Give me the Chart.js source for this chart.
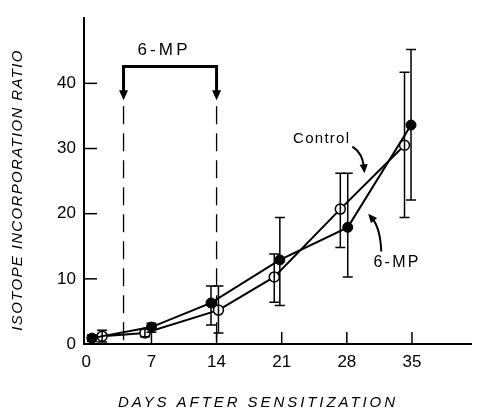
<!DOCTYPE html>
<html>
<head>
<meta charset="utf-8">
<script src="https://cdn.jsdelivr.net/npm/chart.js@4/dist/chart.umd.min.js"></script>
<style>
  html, body { margin: 0; padding: 0; background: #fff; }
  #wrap { width: 478px; height: 411px; }
</style>
</head>
<body>
<div id="wrap"><canvas id="chart"></canvas></div>
<script>
// values
const days6mp = [0.6, 7.0, 13.4, 20.8, 28.1, 34.9];
const ratio6mp = [0.9, 2.6, 6.3, 12.9, 17.9, 33.6];
const low6mp = [0.4, 1.8, 2.9, 5.9, 10.3, 22.1];
const high6mp = [1.4, 3.2, 8.9, 19.4, 26.2, 45.2];

const daysControl = [1.7, 6.3, 14.2, 20.2, 27.3, 34.2];
const ratioControl = [1.2, 1.7, 5.2, 10.3, 20.7, 30.5];
const lowControl = [0.3, 1.1, 1.7, 6.4, 14.8, 19.4];
const highControl = [2.1, 2.3, 8.9, 13.8, 26.2, 41.7];

const xTicks = [0, 7, 14, 21, 28, 35];
const yTicks = [0, 10, 20, 30, 40];

const treatStart = 4;
const treatEnd = 14;

function toPoints(xs, ys) {
    return xs.map((x, i) => ({ x: x, y: ys[i] }));
}

const errorBars = {
    id: 'errorBars',
    afterDatasetsDraw(chart) {
        const ctx = chart.ctx;
        const xs = chart.scales.x, ys = chart.scales.y;
        ctx.save();
        ctx.strokeStyle = '#000';
        ctx.lineWidth = 1.5;
        chart.data.datasets.forEach(ds => {
            ds.data.forEach((p, i) => {
                const px = xs.getPixelForValue(p.x);
                const top = ys.getPixelForValue(ds.high[i]);
                const bot = ys.getPixelForValue(ds.low[i]);
                ctx.beginPath();
                ctx.moveTo(px, top); ctx.lineTo(px, bot);
                ctx.moveTo(px - 5, top); ctx.lineTo(px + 5, top);
                ctx.moveTo(px - 5, bot); ctx.lineTo(px + 5, bot);
                ctx.stroke();
            });
        });
        ctx.restore();
    }
};

function arrowHead(ctx, x, y, angle, size) {
    ctx.save();
    ctx.translate(x, y);
    ctx.rotate(angle);
    ctx.beginPath();
    ctx.moveTo(0, 0);
    ctx.lineTo(-size, -size * 0.45);
    ctx.lineTo(-size, size * 0.45);
    ctx.closePath();
    ctx.fill();
    ctx.restore();
}

function fitText(ctx, text, x, y, width) {
    const w = ctx.measureText(text).width;
    const n = text.length - 1;
    ctx.letterSpacing = ((width - w) / n) + 'px';
    ctx.fillText(text, x, y);
    ctx.letterSpacing = '0px';
}

const extras = {
    id: 'extras',
    beforeDatasetsDraw(chart) {
        const ctx = chart.ctx;
        const xs = chart.scales.x, ys = chart.scales.y;
        const a = chart.chartArea;
        ctx.save();
        ctx.strokeStyle = '#000';
        ctx.fillStyle = '#000';

        // inward tick marks
        ctx.lineWidth = 1.5;
        xTicks.forEach(t => {
            if (t === 0) return;
            const px = xs.getPixelForValue(t);
            ctx.beginPath(); ctx.moveTo(px, a.bottom); ctx.lineTo(px, a.bottom - 12); ctx.stroke();
        });
        yTicks.forEach(t => {
            if (t === 0) return;
            const py = ys.getPixelForValue(t);
            ctx.beginPath(); ctx.moveTo(a.left, py); ctx.lineTo(a.left + 13, py); ctx.stroke();
        });

        // treatment period
        const x1 = xs.getPixelForValue(treatStart), x2 = xs.getPixelForValue(treatEnd);
        const yb = ys.getPixelForValue(42.6), yTip = ys.getPixelForValue(37.4), yDash = ys.getPixelForValue(36.5);
        ctx.lineWidth = 3;
        ctx.beginPath(); ctx.moveTo(x1, yTip - 6); ctx.lineTo(x1, yb); ctx.lineTo(x2, yb); ctx.lineTo(x2, yTip - 6); ctx.stroke();
        arrowHead(ctx, x1, yTip, Math.PI / 2, 10);
        arrowHead(ctx, x2, yTip, Math.PI / 2, 10);
        ctx.lineWidth = 1.3;
        ctx.setLineDash([18, 9]);
        [x1, x2].forEach(px => {
            ctx.beginPath(); ctx.moveTo(px, yDash); ctx.lineTo(px, a.bottom); ctx.stroke();
        });
        ctx.setLineDash([]);

        ctx.font = '17px "Liberation Sans", Arial, sans-serif';
        ctx.textAlign = 'center';
        ctx.textBaseline = 'middle';
        fitText(ctx, '6-MP', (x1 + x2) / 2 - 6, ys.getPixelForValue(45.1), 50);

        // series labels with curved arrows
        ctx.font = '15px "Liberation Sans", Arial, sans-serif';
        fitText(ctx, 'Control', xs.getPixelForValue(25.3), ys.getPixelForValue(31.5), 56);
        ctx.font = '16px "Liberation Sans", Arial, sans-serif';
        fitText(ctx, '6-MP', xs.getPixelForValue(33.4), ys.getPixelForValue(12.5), 45);

        ctx.lineWidth = 2;
        [[28.6, 30.3, 29.7, 29.3, 29.9, 26.2], [31.7, 14.2, 31.6, 17.8, 30.3, 20.0]].forEach(c => {
            const tx = xs.getPixelForValue(c[0]), ty = ys.getPixelForValue(c[1]);
            const cx = xs.getPixelForValue(c[2]), cy = ys.getPixelForValue(c[3]);
            const hx = xs.getPixelForValue(c[4]), hy = ys.getPixelForValue(c[5]);
            const ang = Math.atan2(hy - cy, hx - cx);
            ctx.beginPath();
            ctx.moveTo(tx, ty);
            ctx.quadraticCurveTo(cx, cy, hx - Math.cos(ang) * 6, hy - Math.sin(ang) * 6);
            ctx.stroke();
            arrowHead(ctx, hx, hy, ang, 9);
        });

        // axis titles
        ctx.font = 'italic 15px "Liberation Sans", Arial, sans-serif';
        fitText(ctx, 'DAYS AFTER SENSITIZATION', 258, 403, 277);
        ctx.translate(18, 190);
        ctx.rotate(-Math.PI / 2);
        fitText(ctx, 'ISOTOPE INCORPORATION RATIO', 0, 0, 280);
        ctx.restore();
    }
};

new Chart(document.getElementById('chart'), {
    type: 'scatter',
    data: {
        datasets: [
            {
                label: '6-MP',
                data: toPoints(days6mp, ratio6mp),
                low: low6mp,
                high: high6mp,
                showLine: true,
                borderColor: '#000',
                borderWidth: 2,
                pointRadius: 5,
                pointBackgroundColor: '#000',
                pointBorderColor: '#000',
                pointBorderWidth: 1
            },
            {
                label: 'Control',
                data: toPoints(daysControl, ratioControl),
                low: lowControl,
                high: highControl,
                showLine: true,
                borderColor: '#000',
                borderWidth: 2,
                pointRadius: 5,
                pointBackgroundColor: '#fff',
                pointBorderColor: '#000',
                pointBorderWidth: 1.5
            }
        ]
    },
    options: {
        responsive: true,
        maintainAspectRatio: false,
        animation: false,
        layout: { padding: { top: 14, left: 0, right: 0, bottom: 0 } },
        plugins: {
            legend: { display: false },
            tooltip: { enabled: false }
        },
        scales: {
            x: {
                type: 'linear',
                min: -0.25,
                max: 41.4,
                afterBuildTicks: s => { s.ticks = xTicks.map(v => ({ value: v })); },
                afterFit: s => { s.height = 67; },
                grid: { display: true, drawOnChartArea: false, drawTicks: false },
                border: { color: '#000', width: 2 },
                ticks: {
                    padding: 8,
                    color: '#000',
                    font: { family: '"Liberation Sans", Arial, sans-serif', size: 17 }
                }
            },
            y: {
                min: 0,
                max: 50,
                afterBuildTicks: s => { s.ticks = yTicks.map(v => ({ value: v })); },
                afterFit: s => { s.width = 84; },
                grid: { display: true, drawOnChartArea: false, drawTicks: false },
                border: { color: '#000', width: 2 },
                ticks: {
                    padding: 8,
                    color: '#000',
                    font: { family: '"Liberation Sans", Arial, sans-serif', size: 17 }
                }
            }
        }
    },
    plugins: [extras, errorBars]
});
</script>
</body>
</html>
